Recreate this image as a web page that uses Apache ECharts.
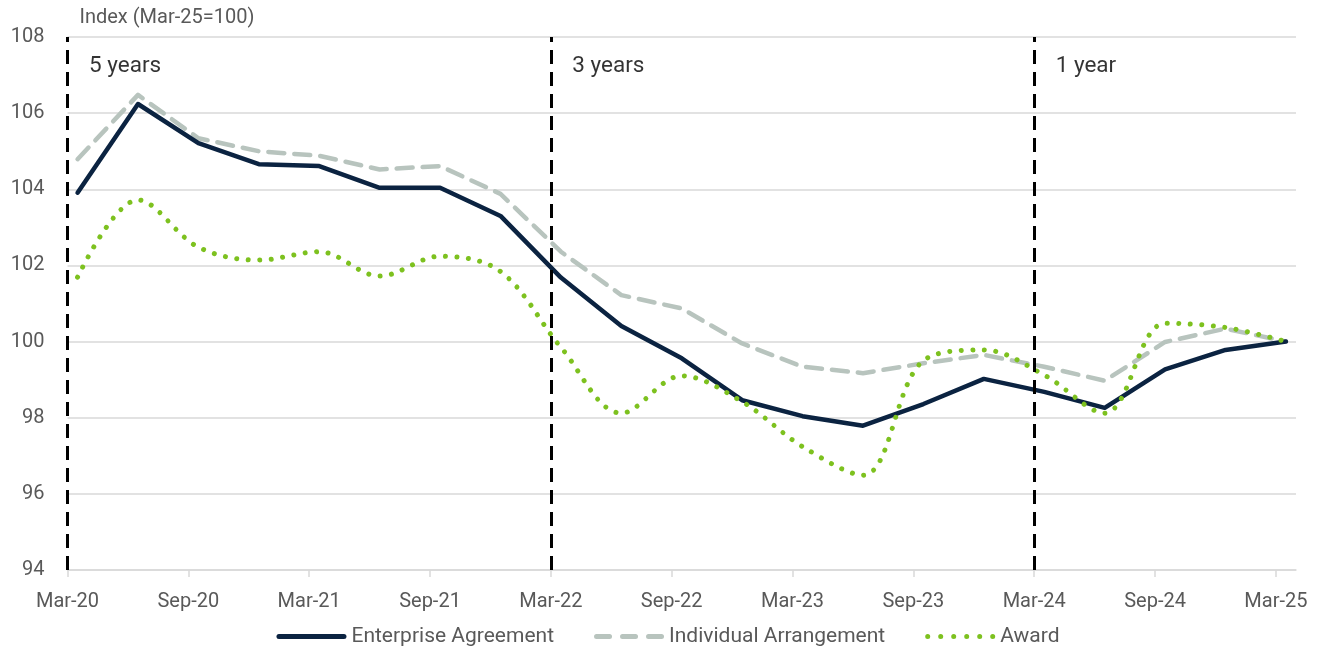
<!DOCTYPE html>
<html>
<head>
<meta charset="utf-8">
<script src="https://cdn.jsdelivr.net/npm/echarts@6/dist/echarts.min.js"></script>
<style>
html,body{margin:0;padding:0;background:#fff;}
#chart{width:1336px;height:648px;}
</style>
</head>
<body>
<div id="chart"></div>
<script>
// Quarterly observations, Mar-20 .. Mar-25
const quarters = ['Mar-20','Jun-20','Sep-20','Dec-20','Mar-21','Jun-21','Sep-21','Dec-21',
  'Mar-22','Jun-22','Sep-22','Dec-22','Mar-23','Jun-23','Sep-23','Dec-23',
  'Mar-24','Jun-24','Sep-24','Dec-24','Mar-25'];
const enterpriseAgreement = [103.91,106.24,105.21,104.66,104.61,104.04,104.04,103.3,
  101.68,100.41,99.56,98.46,98.04,97.79,98.36,99.02,98.68,98.26,99.27,99.78,100.0];
const individualArrangement = [104.79,106.48,105.34,105.0,104.88,104.52,104.61,103.88,
  102.36,101.22,100.87,99.95,99.34,99.17,99.43,99.65,99.34,98.97,99.99,100.34,100.0];
const award = [101.69,103.72,102.48,102.14,102.36,101.72,102.24,101.84,
  99.85,98.12,99.1,98.42,97.24,96.49,99.5,99.78,99.12,98.12,100.48,100.37,100.0];
// x-axis tick labels (every 6 months)
const tickLabels = ['Mar-20','Sep-20','Mar-21','Sep-21','Mar-22','Sep-22','Mar-23','Sep-23','Mar-24','Sep-24','Mar-25'];
// period markers
const periodLabels = ['5 years','3 years','1 year'];
const periodStarts = ['Mar-20','Mar-22','Mar-24'];

// months since start of Mar-20; observations sit mid-month
const qX = i => i * 3 + 0.5;
const tickVals = tickLabels.map((t, i) => i * 6);
const monthOf = lbl => tickVals[tickLabels.indexOf(lbl)];
const mk = arr => arr.map((v, i) => [qX(i), v]);

// legend icon shapes (70 x 5 box)
const pill = (s, len) => `M${s + 2.5},0H${s + len - 2.5}A2.5,2.5 0 0 1 ${s + len - 2.5},5H${s + 2.5}A2.5,2.5 0 0 1 ${s + 2.5},0Z`;
const dot = cx => `M${cx - 2.5},2.5A2.5,2.5 0 1 0 ${cx + 2.5},2.5A2.5,2.5 0 1 0 ${cx - 2.5},2.5Z`;
const iconSolid = 'path://' + pill(0, 70);
const iconDash = 'path://' + [0, 26, 52].map(s => pill(s, 18)).join('');
const iconDots = 'path://' + [2.5, 15.5, 28.5, 41.5, 54.5, 67.5].map(dot).join('');

const FONT = 'Roboto, "Noto Sans", sans-serif';
const GREY = '#595959';

const chart = echarts.init(document.getElementById('chart'), null, {renderer: 'canvas'});
chart.setOption({
  animation: false,
  backgroundColor: '#ffffff',
  textStyle: {fontFamily: FONT},
  grid: {left: 67.5, right: 40, top: 37, bottom: 78},
  legend: {
    top: 621,
    left: 'center',
    itemWidth: 70,
    itemHeight: 5,
    itemGap: 40,
    textStyle: {fontFamily: FONT, fontSize: 21, color: GREY},
    data: [
      {name: 'Enterprise Agreement', icon: iconSolid},
      {name: 'Individual Arrangement', icon: iconDash},
      {name: 'Award', icon: iconDots}
    ]
  },
  xAxis: {
    type: 'value',
    min: 0,
    max: 61,
    interval: 6,
    axisLine: {show: true, lineStyle: {color: '#D9D9D9', width: 1.5}},
    axisTick: {show: true, length: 7, lineStyle: {color: '#D9D9D9', width: 1.5}, customValues: tickVals},
    axisLabel: {
      customValues: tickVals,
      margin: 22,
      fontSize: 20,
      color: GREY,
      fontFamily: FONT,
      formatter: v => { const k = tickVals.indexOf(v); return k >= 0 ? tickLabels[k] : ''; }
    },
    splitLine: {show: false}
  },
  yAxis: {
    type: 'value',
    min: 94,
    max: 108,
    interval: 2,
    name: 'Index (Mar-25=100)',
    nameLocation: 'end',
    nameGap: 9,
    nameTextStyle: {align: 'left', padding: [0, 0, 0, 12], fontSize: 20, color: GREY, fontFamily: FONT},
    axisLine: {show: false},
    axisTick: {show: false},
    axisLabel: {margin: 23, fontSize: 20, color: GREY, fontFamily: FONT},
    splitLine: {lineStyle: {color: '#D9D9D9', width: 1.5}}
  },
  series: [
    {
      name: 'Enterprise Agreement',
      type: 'line',
      data: mk(enterpriseAgreement),
      symbol: 'none',
      color: '#0B2341',
      lineStyle: {color: '#0B2341', width: 4.5, cap: 'round', join: 'round'},
      z: 3,
      markLine: {
        silent: true,
        symbol: ['none', 'none'],
        label: {show: false},
        lineStyle: {color: '#000000', width: 3, type: [14, 8]},
        data: periodStarts.map(p => ({xAxis: monthOf(p)}))
      }
    },
    {
      name: 'Individual Arrangement',
      type: 'line',
      data: mk(individualArrangement),
      symbol: 'none',
      color: '#B8C4BE',
      lineStyle: {color: '#B8C4BE', width: 4.5, type: [16, 10], cap: 'round', join: 'round'},
      z: 2
    },
    {
      name: 'Award',
      type: 'line',
      data: mk(award),
      symbol: 'none',
      smooth: 0.35,
      color: '#7DC11F',
      lineStyle: {color: '#7DC11F', width: 5, type: [0.01, 11.5], cap: 'round'},
      z: 4
    },
    {
      name: 'periods',
      type: 'scatter',
      symbolSize: 1,
      itemStyle: {color: 'rgba(0,0,0,0)'},
      silent: true,
      data: periodStarts.map((p, i) => ({value: [monthOf(p), 107.24], label: {formatter: periodLabels[i]}})),
      label: {show: true, position: 'right', distance: 21, fontSize: 22.5, color: '#000000', fontFamily: FONT},
      z: 5
    }
  ]
});
</script>
</body>
</html>
